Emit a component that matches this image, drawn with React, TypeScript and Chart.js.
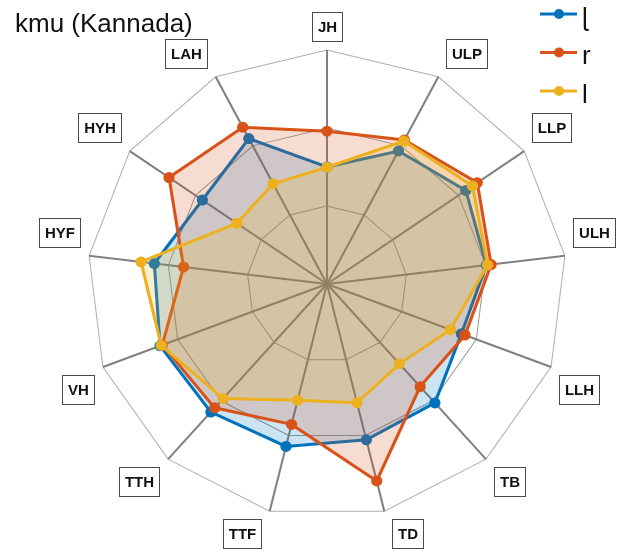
import React, { useEffect, useRef } from 'react';
import { Chart, registerables } from 'chart.js';

Chart.register(...registerables);

// ---- data ----
const TITLE = 'kmu (Kannada)';
const CATEGORIES = ['JH', 'ULP', 'LLP', 'ULH', 'LLH', 'TB', 'TD', 'TTF', 'TTH', 'VH', 'HYF', 'HYH', 'LAH'];
const SERIES_NAMES = ['ɭ', 'r', 'l'];
const SERIES_RETROFLEX = [0.5, 0.642, 0.704, 0.67, 0.6, 0.679, 0.686, 0.715, 0.731, 0.745, 0.726, 0.632, 0.702];
const SERIES_R = [0.653, 0.695, 0.762, 0.69, 0.616, 0.586, 0.867, 0.618, 0.707, 0.735, 0.603, 0.801, 0.757];
const SERIES_L = [0.499, 0.69, 0.738, 0.675, 0.551, 0.456, 0.523, 0.512, 0.654, 0.74, 0.782, 0.457, 0.484];
const AXIS_MIN = 0;
const AXIS_MAX = 1;
const RING_COUNT = 4; // 0, 1/3, 2/3, 1

const COLORS = ['#0072BD', '#D95319', '#EDB120'];
const FILLS = ['rgba(0,114,189,0.2)', 'rgba(217,83,25,0.2)', 'rgba(237,177,32,0.2)'];

const SX = 1.024; // horizontal stretch of the figure's axes
const FONT = '"Liberation Sans", Arial, "DejaVu Sans", sans-serif';

export default function App() {
  const ref = useRef<HTMLCanvasElement | null>(null);

  useEffect(() => {
    const canvas = ref.current;
    if (!canvas) return;
    const series = [SERIES_RETROFLEX, SERIES_R, SERIES_L];

    const stretchPlugin = {
      id: 'stretch',
      beforeDraw(chart: any) {
        const s = chart.scales.r;
        const ctx = chart.ctx;
        ctx.save();
        ctx.translate(s.xCenter, 0);
        ctx.scale(SX, 1);
        ctx.translate(-s.xCenter, 0);
      },
      afterDatasetsDraw(chart: any) {
        chart.ctx.restore();
      },
    };

    const decorPlugin = {
      id: 'decor',
      afterDraw(chart: any) {
        const ctx = chart.ctx;
        const s = chart.scales.r;
        const cx = s.xCenter;
        const cy = s.yCenter;
        ctx.save();
        // axis labels in boxes
        ctx.font = `bold 15px ${FONT}`;
        CATEGORIES.forEach((lab, i) => {
          const p = s.getPointPosition(i, s.drawingArea);
          const vx = cx + (p.x - cx) * SX;
          const vy = p.y;
          const tw = ctx.measureText(lab).width;
          const bw = Math.round(tw + 12);
          const bh = 30;
          let left: number;
          if (Math.abs(vx - cx) < 1) left = vx - bw / 2;
          else if (vx > cx) left = vx + 8;
          else left = vx - 8 - bw;
          const top = vy < cy ? vy - 8 - bh : vy + 8;
          left = Math.round(left);
          const t = Math.round(top);
          ctx.fillStyle = '#ffffff';
          ctx.fillRect(left, t, bw, bh);
          ctx.strokeStyle = '#4a4a4a';
          ctx.lineWidth = 1;
          ctx.strokeRect(left + 0.5, t + 0.5, bw - 1, bh - 1);
          ctx.fillStyle = '#111111';
          ctx.textAlign = 'center';
          ctx.textBaseline = 'middle';
          ctx.fillText(lab, left + bw / 2, t + bh / 2 + 1);
        });
        // title
        ctx.font = `26px ${FONT}`;
        ctx.fillStyle = '#111111';
        ctx.textAlign = 'left';
        ctx.textBaseline = 'alphabetic';
        ctx.fillText(TITLE, 15, 32);
        // legend
        SERIES_NAMES.forEach((name, k) => {
          const y = 14 + k * 38.5;
          ctx.strokeStyle = COLORS[k];
          ctx.lineWidth = 3;
          ctx.beginPath();
          ctx.moveTo(540, y);
          ctx.lineTo(577, y);
          ctx.stroke();
          ctx.fillStyle = COLORS[k];
          ctx.beginPath();
          ctx.arc(559, y, 5, 0, Math.PI * 2);
          ctx.fill();
          ctx.fillStyle = '#111111';
          ctx.font = `26px ${FONT}`;
          ctx.textAlign = 'left';
          ctx.textBaseline = 'alphabetic';
          ctx.fillText(name, 582, y + 11.5);
        });
        ctx.restore();
      },
    };

    const chart = new Chart(canvas, {
      type: 'radar',
      data: {
        labels: CATEGORIES,
        datasets: series.map((vals, k) => ({
          label: SERIES_NAMES[k],
          data: vals,
          borderColor: COLORS[k],
          backgroundColor: FILLS[k],
          pointBackgroundColor: COLORS[k],
          pointBorderColor: COLORS[k],
          pointBorderWidth: 0,
          pointRadius: 5.5,
          pointHoverRadius: 5.5,
          borderWidth: 3,
          fill: true,
          tension: 0,
          clip: false,
          order: 3 - k,
        })),
      },
      options: {
        responsive: false,
        animation: false,
        devicePixelRatio: 1,
        events: [],
        layout: { padding: { left: 93, right: 63, top: 50, bottom: 36 } },
        plugins: {
          legend: { display: false },
          title: { display: false },
          tooltip: { enabled: false },
        },
        scales: {
          r: {
            min: AXIS_MIN,
            max: AXIS_MAX,
            ticks: { display: false, count: RING_COUNT },
            pointLabels: { display: false },
            grid: {
              color: (c: any) => (c.index === RING_COUNT - 1 ? '#b0b0b0' : '#999999'),
              lineWidth: 1,
            },
            angleLines: { color: '#808080', lineWidth: 2 },
          },
        },
      },
      plugins: [stretchPlugin, decorPlugin],
    } as any);

    return () => chart.destroy();
  }, []);

  return (
    <div style={{ position: 'absolute', left: 0, top: 0, width: 624, height: 554, background: '#fff' }}>
      <canvas ref={ref} width={624} height={554} style={{ display: 'block', width: 624, height: 554 }} />
    </div>
  );
}
